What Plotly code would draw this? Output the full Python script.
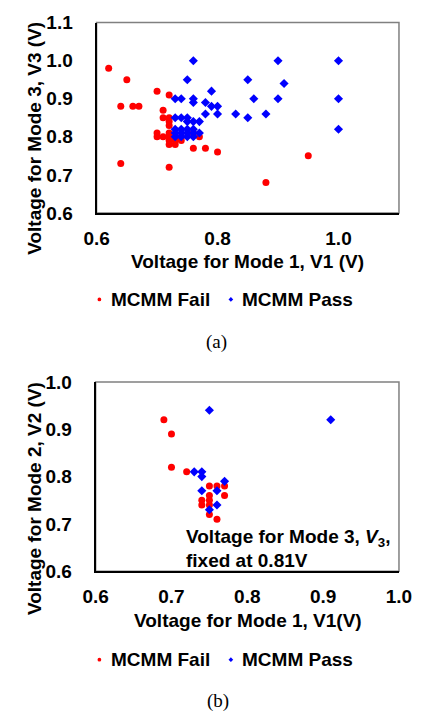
import plotly.graph_objects as go

W, H = 427, 726

# ---- Data: chart (a) V1 vs V3 ----
a_fail_v1 = [0.62, 0.65, 0.64, 0.66, 0.67, 0.64, 0.70, 0.72, 0.71, 0.71, 0.72, 0.72, 0.72,
             0.70, 0.70, 0.71, 0.72, 0.72, 0.72, 0.72, 0.73, 0.73, 0.74, 0.73, 0.74, 0.76,
             0.77, 0.76, 0.78, 0.80, 0.72, 0.95, 0.88]
a_fail_v3 = [0.98, 0.95, 0.88, 0.88, 0.88, 0.73, 0.92, 0.91, 0.87, 0.85, 0.85, 0.84, 0.83,
             0.81, 0.80, 0.80, 0.81, 0.80, 0.79, 0.78, 0.78, 0.79, 0.79, 0.80, 0.80, 0.81,
             0.80, 0.77, 0.77, 0.76, 0.72, 0.75, 0.68]
a_pass_v1 = [0.76, 0.75, 0.73, 0.74, 0.76, 0.76, 0.78, 0.79, 0.79, 0.80, 0.78, 0.80, 0.83,
             0.85, 0.85, 0.86, 0.90, 1.00, 0.91, 0.90, 1.00, 0.88, 1.00,
             0.73, 0.74, 0.75, 0.75, 0.76, 0.77,
             0.73, 0.74, 0.75, 0.76,
             0.73, 0.74, 0.75, 0.76, 0.77,
             0.73, 0.74, 0.75, 0.76]
a_pass_v3 = [1.00, 0.95, 0.90, 0.90, 0.90, 0.89, 0.89, 0.92, 0.88, 0.88, 0.86, 0.86, 0.86,
             0.85, 0.95, 0.90, 1.00, 1.00, 0.94, 0.90, 0.90, 0.86, 0.82,
             0.85, 0.85, 0.85, 0.84, 0.84, 0.84,
             0.82, 0.82, 0.82, 0.82,
             0.81, 0.81, 0.81, 0.81, 0.81,
             0.80, 0.80, 0.80, 0.80]

# ---- Data: chart (b) V1 vs V2 (V3 fixed at 0.81V) ----
b_fail_v1 = [0.69, 0.70, 0.70, 0.72, 0.75, 0.76, 0.77, 0.77, 0.74, 0.75, 0.74, 0.75, 0.75, 0.75, 0.76]
b_fail_v2 = [0.92, 0.89, 0.82, 0.81, 0.78, 0.78, 0.78, 0.76, 0.75, 0.75, 0.74, 0.74, 0.76, 0.72, 0.71]
b_pass_v1 = [0.75, 0.91, 0.73, 0.74, 0.74, 0.77, 0.74, 0.76, 0.76, 0.75]
b_pass_v2 = [0.94, 0.92, 0.81, 0.81, 0.80, 0.79, 0.77, 0.77, 0.74, 0.73]

a_xticks = [0.6, 0.8, 1.0]
a_yticks = [0.6, 0.7, 0.8, 0.9, 1.0, 1.1]
b_xticks = [0.6, 0.7, 0.8, 0.9, 1.0]
b_yticks = [0.6, 0.7, 0.8, 0.9, 1.0]

RED = "#FF0000"
BLUE = "#0000FF"
FONT = "Liberation Sans"
FS = 19


def fx(px):
    return px / W


def fy(py):
    return 1 - py / H


fig = go.Figure()
fig.add_trace(go.Scatter(x=a_fail_v1, y=a_fail_v3, mode="markers", name="MCMM Fail",
                         marker=dict(symbol="circle", size=7, color=RED), xaxis="x", yaxis="y"))
fig.add_trace(go.Scatter(x=a_pass_v1, y=a_pass_v3, mode="markers", name="MCMM Pass",
                         marker=dict(symbol="diamond", size=7, color=BLUE), xaxis="x", yaxis="y"))
fig.add_trace(go.Scatter(x=b_fail_v1, y=b_fail_v2, mode="markers", name="MCMM Fail",
                         marker=dict(symbol="circle", size=7, color=RED), xaxis="x2", yaxis="y2"))
fig.add_trace(go.Scatter(x=b_pass_v1, y=b_pass_v2, mode="markers", name="MCMM Pass",
                         marker=dict(symbol="diamond", size=7, color=BLUE), xaxis="x2", yaxis="y2"))

# plot areas in pixels
A = dict(l=89, r=411, t=13, b=209)
B = dict(l=88, r=411, t=383, b=578)

tickfont = dict(family=FONT, size=FS, color="black", weight="bold")
common = dict(showgrid=False, zeroline=False, showline=True, linecolor="black", linewidth=2,
              ticks="", tickfont=tickfont, tickformat=".1f")

fig.update_layout(
    width=W, height=H, margin=dict(l=0, r=0, t=0, b=0),
    paper_bgcolor="white", plot_bgcolor="white", showlegend=False,
    xaxis=dict(domain=[fx(A["l"]), fx(A["r"])], range=[0.6, 1.1], tickvals=a_xticks,
               anchor="y", ticklabelstandoff=7, **common),
    yaxis=dict(domain=[fy(A["b"]), fy(A["t"])], range=[0.6, 1.1], tickvals=a_yticks,
               anchor="x", ticklabelstandoff=18, **common),
    xaxis2=dict(domain=[fx(B["l"]), fx(B["r"])], range=[0.6, 1.0], tickvals=b_xticks,
                anchor="y2", ticklabelstandoff=7, **common),
    yaxis2=dict(domain=[fy(B["b"]), fy(B["t"])], range=[0.6, 1.0], tickvals=b_yticks,
                anchor="x2", ticklabelstandoff=18, **common),
)

shapes = []
for P in (A, B):
    shapes.append(dict(type="rect", xref="paper", yref="paper", layer="below",
                       x0=fx(P["l"]), x1=fx(P["r"]), y0=fy(P["b"]), y1=fy(P["t"]),
                       line=dict(color="#808080", width=1.5)))

annotations = []


def text(px, py, s, anchor="center", size=FS, family=FONT, angle=0, bold=True):
    annotations.append(dict(x=fx(px), y=fy(py), xref="paper", yref="paper",
                            text=(f"<b>{s}</b>" if bold else s),
                            showarrow=False, xanchor=anchor, yanchor="middle", textangle=angle,
                            font=dict(family=family, size=size, color="black")))


# axis titles
text(250, 259, "Voltage for Mode 1, V1 (V)")
text(23, 132, "Voltage for Mode 3, V3 (V)", angle=-90)
text(250, 629, "Voltage for Mode 1, V1(V)")
text(23, 503, "Voltage for Mode 2, V2 (V)", angle=-90)

# in-plot note
text(182, 544, "Voltage for Mode 3, <i>V</i><sub>3</sub>,", anchor="left")
text(182, 567, "fixed at 0.81V", anchor="left")

# legends (drawn manually)
for ly in (298, 669):
    shapes.append(dict(type="circle", xref="paper", yref="paper", x0=fx(90), x1=fx(94),
                       y0=fy(ly + 2), y1=fy(ly - 2), fillcolor=RED, line=dict(width=0)))
    shapes.append(dict(type="path", xref="paper", yref="paper",
                       path=f"M {fx(232)},{fy(ly - 2.5)} L {fx(234.5)},{fy(ly)} L {fx(232)},{fy(ly + 2.5)} L {fx(229.5)},{fy(ly)} Z",
                       fillcolor=BLUE, line=dict(width=0)))
    text(102, ly, "MCMM Fail", anchor="left")
    text(242, ly, "MCMM Pass", anchor="left")

# captions
text(217, 342, "(a)", family="Liberation Serif", size=19, bold=False)
text(218, 712, "(b)", family="Liberation Serif", size=19, bold=False)

fig.update_layout(shapes=shapes, annotations=annotations)
fig.write_html("out.html")
